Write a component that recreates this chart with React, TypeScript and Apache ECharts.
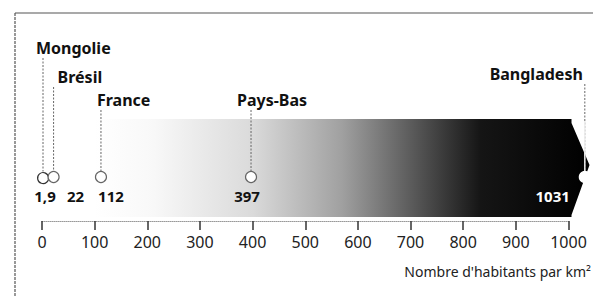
import React, { useEffect, useRef } from "react";
import * as echarts from "echarts";

// ---- data ----
const countries = ["Mongolie", "Brésil", "France", "Pays-Bas", "Bangladesh"];
const densities = [1.9, 22, 112, 397, 1031];
const densityLabels = ["1,9", "22", "112", "397", "1031"];
const axisMin = 0;
const axisMax = 1000;
const axisStep = 100;
const bandRange = [100, 1000];
const axisTitle = "Nombre d'habitants par km²";

// ---- layout / style (not data) ----
const nameY = [48, 77, 100, 100, 74];
const nameDx = [-7, 4, -4, -14, -2];
const nameAlign = ["left", "left", "left", "left", "right"];
const valueDx = [2, 22, 10, -4, -15];
const valueAlign = ["center", "center", "center", "center", "right"];
const markerLevel = 0.431;
const FONT = "'Noto Sans', 'DejaVu Sans', sans-serif";

export default function App() {
  const ref = useRef<HTMLDivElement>(null);
  useEffect(() => {
    if (!ref.current) return;
    const chart = echarts.init(ref.current, undefined, { renderer: "svg" });
    const option: any = {
      animation: false,
      grid: { left: 42, right: 24.5, top: 119, bottom: 76, containLabel: false },
      xAxis: {
        type: "value",
        min: axisMin,
        max: axisMax,
        interval: axisStep,
        axisLine: { show: true, lineStyle: { color: "#999", type: "dotted", width: 1 } },
        axisTick: { show: true, length: 9, lineStyle: { color: "#333", width: 1.5 } },
        axisLabel: {
          color: "#222",
          fontSize: 16,
          fontFamily: FONT,
          margin: 13,
          formatter: (v: number) => String(v),
        },
        splitLine: { show: false },
      },
      yAxis: { type: "value", min: 0, max: 1, show: false },
      graphic: [
        { type: "line", shape: { x1: 15, y1: 13, x2: 593, y2: 13 }, style: { stroke: "#555", lineWidth: 1.2 } },
        { type: "line", shape: { x1: 15, y1: 13, x2: 15, y2: 297 }, style: { stroke: "#555", lineWidth: 1.2, lineDash: [3, 1] } },
        {
          type: "text",
          x: 591,
          y: 271,
          style: { text: axisTitle, font: `14px ${FONT}`, fill: "#222", align: "right", verticalAlign: "middle" },
        },
      ],
      series: [
        {
          type: "custom",
          coordinateSystem: "cartesian2d",
          z: 1,
          clip: false,
          data: [[bandRange[0], bandRange[1]]],
          renderItem: (params: any, api: any) => {
            const p0 = api.coord([api.value(0), 1]);
            const p1 = api.coord([api.value(1), 0.04]);
            const x0 = p0[0], yTop = p0[1];
            const xr = p1[0] + 3, yBot = p1[1];
            const mid = (yTop + yBot) / 2 - 3;
            return {
              type: "polygon",
              shape: {
                points: [
                  [x0, yTop], [xr, yTop], [xr, yTop + 4], [xr + 18, mid],
                  [xr, yBot - 2], [xr, yBot], [x0, yBot],
                ],
              },
              style: {
                fill: new echarts.graphic.LinearGradient(0, 0, 1, 0, [
                  { offset: 0, color: "#ffffff" },
                  { offset: 0.12, color: "#f8f8f8" },
                  { offset: 0.32, color: "#dadada" },
                  { offset: 0.5, color: "#a0a0a0" },
                  { offset: 0.65, color: "#565656" },
                  { offset: 0.78, color: "#151515" },
                  { offset: 1, color: "#000000" },
                ]),
              },
            };
          },
        },
        {
          type: "custom",
          coordinateSystem: "cartesian2d",
          z: 3,
          clip: false,
          data: densities.map((d) => [d, markerLevel]),
          renderItem: (params: any, api: any) => {
            const i = params.dataIndex;
            const pt = api.coord([api.value(0), api.value(1)]);
            const bandTop = api.coord([0, 1])[1];
            const px = pt[0], py = pt[1];
            const last = i === densities.length - 1;
            const r = 5.5;
            const children: any[] = [
              {
                type: "line",
                shape: { x1: px, y1: nameY[i] + 10, x2: px, y2: py - r },
                style: { stroke: "#666", lineWidth: 1, lineDash: [2, 1.5] },
              },
            ];
            if (last) {
              children.push({
                type: "line",
                shape: { x1: px, y1: bandTop + 2, x2: px, y2: py - r },
                style: { stroke: "#eee", lineWidth: 1.5 },
              });
            }
            children.push(
              {
                type: "circle",
                shape: { cx: px, cy: py, r },
                style: { fill: "#fff", stroke: last ? "#fff" : i === 0 ? "#333" : "#666", lineWidth: 1.2 },
              },
              {
                type: "text",
                x: px + nameDx[i],
                y: nameY[i],
                style: {
                  text: countries[i],
                  font: `bold 16px ${FONT}`,
                  fill: "#111",
                  align: nameAlign[i],
                  verticalAlign: "middle",
                },
              },
              {
                type: "text",
                x: px + valueDx[i],
                y: py + 19,
                style: {
                  text: densityLabels[i],
                  font: `bold 15px ${FONT}`,
                  fill: last ? "#fff" : "#111",
                  align: valueAlign[i],
                  verticalAlign: "middle",
                },
              }
            );
            return { type: "group", children };
          },
        },
      ],
    };
    chart.setOption(option);
    return () => chart.dispose();
  }, []);
  return (
    <div
      ref={ref}
      style={{ position: "fixed", left: 0, top: 0, width: 593, height: 297, background: "#fff" }}
    />
  );
}
